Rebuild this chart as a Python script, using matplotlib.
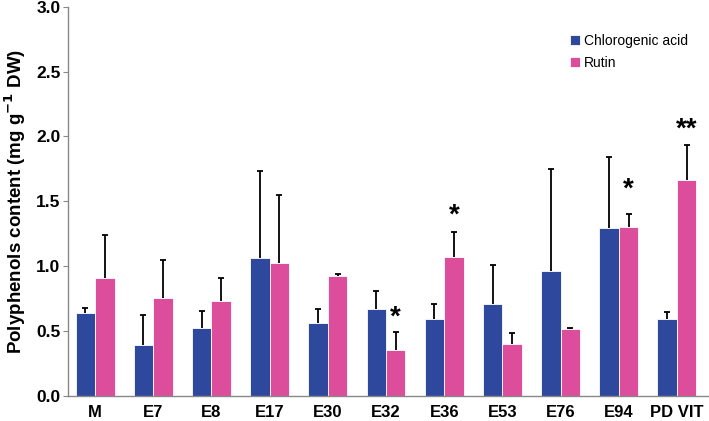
import matplotlib
matplotlib.use("Agg")
import matplotlib.pyplot as plt
import numpy as np

categories = ["M", "E7", "E8", "E17", "E30", "E32", "E36", "E53", "E76", "E94", "PD VIT"]
chlorogenic = [0.64, 0.39, 0.52, 1.06, 0.56, 0.67, 0.59, 0.71, 0.96, 1.29, 0.59]
chlorogenic_err = [0.035, 0.23, 0.135, 0.67, 0.11, 0.14, 0.12, 0.30, 0.79, 0.55, 0.055]
rutin = [0.905, 0.755, 0.73, 1.02, 0.92, 0.35, 1.07, 0.40, 0.515, 1.30, 1.66]
rutin_err = [0.335, 0.29, 0.175, 0.53, 0.02, 0.14, 0.195, 0.085, 0.005, 0.10, 0.275]
signif_idx = [5, 6, 9, 10]
signif_txt = ["*", "*", "*", "**"]
signif_y = [0.50, 1.29, 1.49, 1.95]

plt.rcParams['font.family'] = ['Liberation Sans', 'DejaVu Sans']

blue = "#2e489e"
pink = "#dc4d9b"

fig = plt.figure(figsize=(7.09, 4.21), dpi=100)
ax = fig.add_axes([68/709, 25.3/421, 1 - 68/709, (395.7-6.7)/421])

x = np.arange(len(categories))
w = 0.335
ekw = dict(ecolor="black", elinewidth=1.3, capsize=2.3, capthick=1.3)


def draw(xpos, vals, errs, color, label):
    ax.bar(xpos, vals, w, color=color, edgecolor="white", linewidth=0.6,
           label=label, zorder=2)
    eb = ax.errorbar(xpos, vals, yerr=[np.zeros(len(vals)), errs], fmt="none", zorder=3, **ekw)
    for cl in eb[1]:
        if np.allclose(cl.get_ydata(), vals):
            cl.set_visible(False)


draw(x - w/2, chlorogenic, chlorogenic_err, blue, "Chlorogenic acid")
draw(x + w/2, rutin, rutin_err, pink, "Rutin")

for i, s, yv in zip(signif_idx, signif_txt, signif_y):
    ax.text(x[i] + w/2, yv, s, ha="center", va="bottom",
            fontsize=20, fontweight="bold")

ax.set_xlim(-0.464, 10.55)
ax.set_ylim(0, 3.0)
ticks = np.arange(0, 3.01, 0.5)
ax.set_yticks(ticks)
ax.set_yticklabels([f"{v:.1f}" for v in ticks], fontsize=12.5, fontweight="bold")
ax.set_xticks(x)
ax.set_xticklabels(categories, fontsize=12, fontweight="bold")
ax.tick_params(axis="x", length=0, pad=6.5)
ax.tick_params(axis="y", length=3.5, color="#888888", direction="out", pad=2)
for sp in ["top", "right"]:
    ax.spines[sp].set_visible(False)
for sp in ["left", "bottom"]:
    ax.spines[sp].set_color("#888888")
    ax.spines[sp].set_linewidth(1.0)

ax.set_ylabel("Polyphenols content (mg g$^{\\mathbf{-1}}$ DW)", fontsize=13.5, fontweight="bold", labelpad=6)

leg = ax.legend(loc="upper left", bbox_to_anchor=((570-68)/641, (421-34-25.3)/389), frameon=False,
                fontsize=10, handlelength=0.7, handleheight=0.7, handletextpad=0.3,
                labelspacing=0.55, borderpad=0, borderaxespad=0)

fig.savefig("out.png", dpi=100)
